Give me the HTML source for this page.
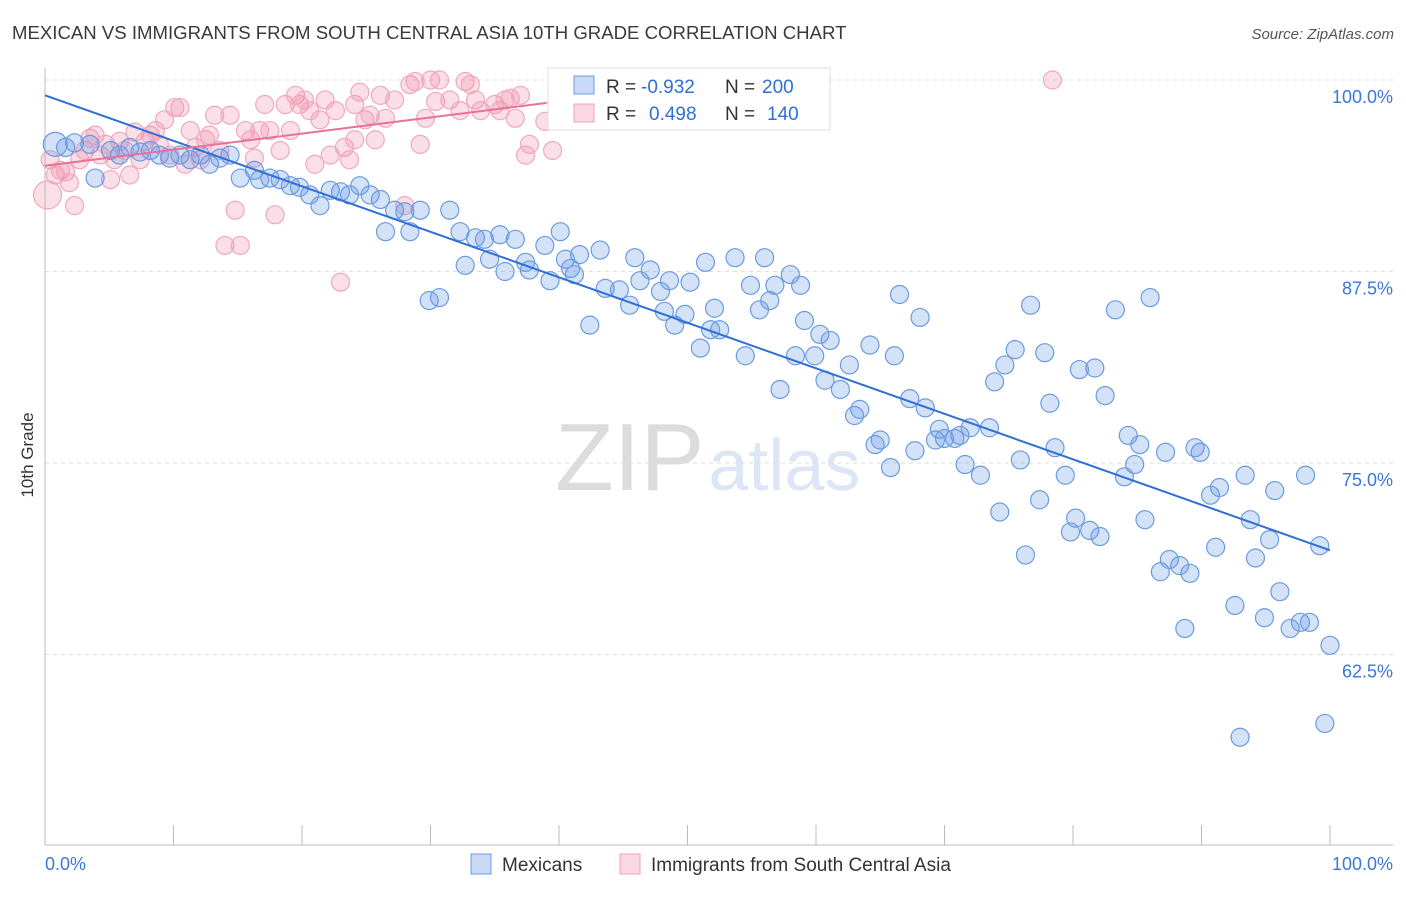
<!DOCTYPE html>
<html><head><meta charset="utf-8">
<style>
body{margin:0;background:#fff;font-family:"Liberation Sans",sans-serif;}
svg text{font-family:"Liberation Sans",sans-serif;}
</style></head>
<body>
<svg id="chart" width="1406" height="892" xmlns="http://www.w3.org/2000/svg">
<text x="12" y="39" font-size="18.6" fill="#3a3a3a">MEXICAN VS IMMIGRANTS FROM SOUTH CENTRAL ASIA 10TH GRADE CORRELATION CHART</text>
<text x="1394" y="39" font-size="15" fill="#555" text-anchor="end" font-style="italic">Source: ZipAtlas.com</text>
<text x="555" y="490" font-size="96" fill="#e2e2e2" font-family="Liberation Serif"><tspan fill="#dcdcdc">ZIP</tspan><tspan fill="#dce6f5" font-family="Liberation Sans" font-size="72" dx="4">atlas</tspan></text>
<g id="grid"></g>
<g id="axes"></g>
<g id="pts"></g>
<g id="trend"></g>
<text transform="translate(33,455) rotate(-90)" font-size="17" fill="#333" text-anchor="middle">10th Grade</text>
<g>
<rect x="548" y="68" width="282" height="62" fill="#fff" stroke="#ddd"/>
<rect x="574" y="76" width="20" height="18" fill="rgba(100,150,230,0.35)" stroke="#6a9be0"/>
<rect x="574" y="104" width="20" height="18" fill="rgba(240,140,170,0.35)" stroke="#f0a0b8"/>
<text x="606" y="93" font-size="19" fill="#333">R =</text>
<text x="641" y="93" font-size="19" fill="#2f6fd6">-0.932</text>
<text x="725" y="93" font-size="19" fill="#333">N =</text>
<text x="762" y="93" font-size="19" fill="#2f6fd6">200</text>
<text x="606" y="120" font-size="19" fill="#333">R =</text>
<text x="649" y="120" font-size="19" fill="#2f6fd6">0.498</text>
<text x="725" y="120" font-size="19" fill="#333">N =</text>
<text x="767" y="120" font-size="19" fill="#2f6fd6">140</text>
</g>
<g>
<rect x="471" y="854" width="20" height="20" fill="rgba(100,150,230,0.35)" stroke="#6a9be0"/>
<text x="502" y="871" font-size="19" fill="#333">Mexicans</text>
<rect x="620" y="854" width="20" height="20" fill="rgba(240,140,170,0.35)" stroke="#f0a0b8"/>
<text x="651" y="871" font-size="19" fill="#333">Immigrants from South Central Asia</text>
</g>
</svg>
<script>
const yTicks=[100,87.5,75,62.5];
const yTickLabels=["100.0%","87.5%","75.0%","62.5%"];
const xTickVals=[0,10,20,30,40,50,60,70,80,90,100];
const blueX=[0.8,1.6,2.3,3.5,3.9,5.1,5.8,6.6,7.4,8.2,8.9,9.7,10.5,11.3,12.1,12.8,13.6,14.4,15.2,16.3,16.7,17.5,18.3,19.1,19.8,20.6,21.4,22.2,23.0,23.7,24.5,25.3,26.1,26.5,27.2,28.0,28.4,29.2,29.9,30.7,31.5,32.3,32.7,33.5,34.2,34.6,35.4,35.8,36.6,37.4,37.7,38.9,39.3,40.1,40.5,40.9,41.2,41.6,42.4,43.2,43.6,44.7,45.5,45.9,46.3,47.1,47.9,48.2,48.6,49.0,49.8,50.2,51.0,51.4,51.8,52.1,52.5,53.7,54.5,54.9,55.6,56.0,56.4,56.8,57.2,58.0,58.4,58.8,59.1,59.9,60.3,60.7,61.1,61.9,62.6,63.0,63.4,64.2,64.6,65.0,65.8,66.1,66.5,67.3,67.7,68.1,68.5,69.3,69.6,70.0,70.8,71.2,71.6,72.0,72.8,73.5,73.9,74.3,74.7,75.5,75.9,76.3,76.7,77.4,77.8,78.2,78.6,79.4,79.8,80.2,80.5,81.3,81.7,82.1,82.5,83.3,84.0,84.3,84.8,85.2,85.6,86.0,86.8,87.2,87.5,88.3,88.7,89.1,89.5,89.9,90.7,91.1,91.4,92.6,93.0,93.4,93.8,94.2,94.9,95.3,95.7,96.1,96.9,97.7,98.1,98.4,99.2,99.6,100];
const blueY=[95.8,95.6,95.9,95.8,93.6,95.4,95.1,95.6,95.3,95.4,95.1,94.9,95.1,94.8,95.1,94.5,94.9,95.1,93.6,94.1,93.5,93.6,93.5,93.1,93.0,92.5,91.8,92.8,92.7,92.5,93.1,92.5,92.2,90.1,91.5,91.4,90.1,91.5,85.6,85.8,91.5,90.1,87.9,89.7,89.6,88.3,89.9,87.5,89.6,88.1,87.6,89.2,86.9,90.1,88.3,87.7,87.3,88.6,84.0,88.9,86.4,86.3,85.3,88.4,86.9,87.6,86.2,84.9,86.9,84.0,84.7,86.8,82.5,88.1,83.7,85.1,83.7,88.4,82.0,86.6,85.0,88.4,85.6,86.6,79.8,87.3,82.0,86.6,84.3,82.0,83.4,80.4,83.0,79.8,81.4,78.1,78.5,82.7,76.2,76.5,74.7,82.0,86.0,79.2,75.8,84.5,78.6,76.5,77.2,76.6,76.6,76.8,74.9,77.3,74.2,77.3,80.3,71.8,81.4,82.4,75.2,69.0,85.3,72.6,82.2,78.9,76.0,74.2,70.5,71.4,81.1,70.6,81.2,70.2,79.4,85.0,74.1,76.8,74.9,76.2,71.3,85.8,67.9,75.7,68.7,68.3,64.2,67.8,76.0,75.7,72.9,69.5,73.4,65.7,57.1,74.2,71.3,68.8,64.9,70.0,73.2,66.6,64.2,64.6,74.2,64.6,69.6,58.0,63.1];
const pinkX=[0.2,0.4,0.8,1.2,1.6,1.9,2.3,2.7,3.1,3.5,3.9,4.3,4.7,5.1,5.4,5.8,6.2,6.6,7.0,7.4,7.8,8.2,8.6,8.9,9.3,9.7,10.1,10.5,10.9,11.3,11.7,12.1,12.5,12.8,13.2,13.6,14.0,14.4,14.8,15.2,15.6,16.0,16.3,16.7,17.1,17.5,17.9,18.3,18.7,19.1,19.5,19.8,20.2,20.6,21.0,21.4,21.8,22.2,22.6,23.0,23.3,23.7,24.1,24.5,24.9,25.3,25.7,26.1,26.5,27.2,28.0,28.4,28.8,29.2,29.6,30.0,30.4,30.7,31.5,32.3,32.7,33.1,33.5,33.9,35.0,35.4,35.8,36.2,36.6,37.0,37.4,37.7,38.9,39.5,78.4,24.1];
const pinkY=[92.5,94.8,93.8,94.1,94.0,93.3,91.8,94.8,95.4,96.2,96.4,95.1,95.8,93.5,94.8,96.0,95.4,93.8,96.6,94.8,96.0,96.4,96.7,95.8,97.4,95.1,98.2,98.2,94.5,96.7,95.6,94.8,96.1,96.4,97.7,95.4,89.2,97.7,91.5,89.2,96.7,96.1,94.9,96.7,98.4,96.7,91.2,95.4,98.4,96.7,99.0,98.4,98.7,98.0,94.5,97.4,98.7,95.1,98.0,86.8,95.6,94.8,98.4,99.2,97.4,97.7,96.1,99.0,97.5,98.7,91.8,99.7,99.9,95.8,97.5,100,98.6,100,98.7,98.0,99.9,99.7,98.7,98.0,98.4,98.0,98.7,98.8,97.5,99.0,95.1,95.8,97.3,95.4,100,96.1];
const blueTrend=[99.0,69.3];
const pinkTrend=[94.4,98.5];
const pinkTrendDashedEnd=[53,100];

const X=v=>45+v*12.85;
const Y=v=>80+(100-v)*15.32;
const NS="http://www.w3.org/2000/svg";
function mk(tag,attrs,parent){const e=document.createElementNS(NS,tag);for(const k in attrs)e.setAttribute(k,attrs[k]);parent.appendChild(e);return e;}
const grid=document.getElementById('grid'),axes=document.getElementById('axes'),pts=document.getElementById('pts'),trend=document.getElementById('trend');
yTicks.forEach((t,i)=>{
  const l=mk('line',{x1:45,x2:1393,y1:Y(t),y2:Y(t),stroke:'#ddd','stroke-dasharray':'4,4'},grid);
  
  
  const tx=mk('text',{x:1393,y:Y(t)+23,'font-size':18,fill:'#3a78d8','text-anchor':'end'},axes);
  tx.textContent=yTickLabels[i];
  
  
});
mk('line',{x1:45,x2:45,y1:68,y2:845,stroke:'#bbb'},axes);
mk('line',{x1:45,x2:1393,y1:845,y2:845,stroke:'#bbb'},axes);
xTickVals.forEach(v=>{
  const t=mk('line',{x1:X(v),x2:X(v),y1:825,y2:845,stroke:'#bbb'},axes);
  
  
});
const xl0=mk('text',{x:45,y:870,'font-size':18,fill:'#3a78d8'},axes);xl0.textContent='0.0%';


const xl1=mk('text',{x:1393,y:870,'font-size':18,fill:'#3a78d8','text-anchor':'end'},axes);xl1.textContent='100.0%';


pinkX.forEach((x,i)=>{
  const c=mk('circle',{cx:X(x),cy:Y(pinkY[i]),r:i===0?14:9,fill:'rgba(240,140,170,0.28)',stroke:'#f0a8bf','stroke-width':1.2},pts);
  
  
});
blueX.forEach((x,i)=>{
  const c=mk('circle',{cx:X(x),cy:Y(blueY[i]),r:i===0?12:9,fill:'rgba(100,150,230,0.28)',stroke:'#6a9be0','stroke-width':1.2},pts);
  
  
});
const bl=mk('line',{x1:X(0),y1:Y(blueTrend[0]),x2:X(100),y2:Y(blueTrend[1]),stroke:'#2f6fd6','stroke-width':2},trend);


const pl=mk('line',{x1:X(0),y1:Y(pinkTrend[0]),x2:X(39),y2:Y(pinkTrend[1]),stroke:'#e8709a','stroke-width':2},trend);


const pd=mk('line',{x1:X(39),y1:Y(pinkTrend[1]),x2:X(pinkTrendDashedEnd[0]),y2:Y(pinkTrendDashedEnd[1]),stroke:'#f0a8bf','stroke-width':2,'stroke-dasharray':'5,4'},trend);


</script>
</body></html>
